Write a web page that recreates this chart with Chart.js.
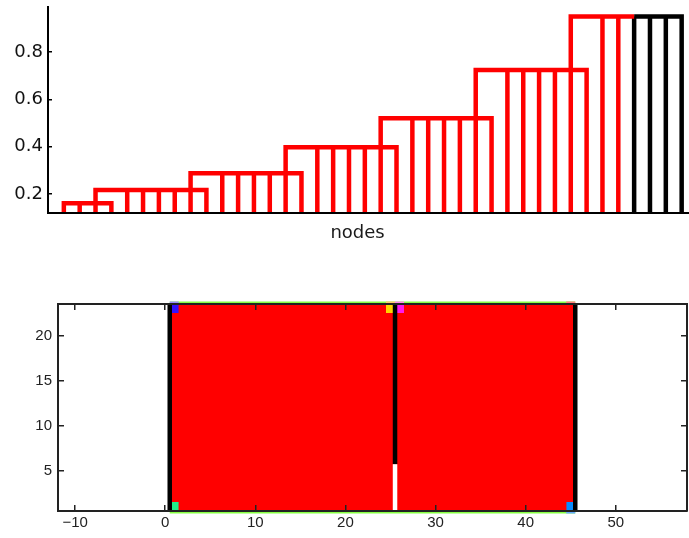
<!DOCTYPE html>
<html>
<head>
<meta charset="utf-8">
<script src="https://cdn.jsdelivr.net/npm/chart.js@4.4.1/dist/chart.umd.min.js"></script>
<style>
  html, body { margin: 0; padding: 0; background: #fff; }
  #wrap { position: relative; width: 689px; height: 538px; overflow: hidden; }
  #treeChart { position: absolute; left: 0; top: 0; }
  #mapChart { position: absolute; left: 0; top: 290px; }
</style>
</head>
<body>
<div id="wrap">
  <canvas id="treeChart" width="689" height="250"></canvas>
  <canvas id="mapChart" width="689" height="248"></canvas>
</div>
<script>
// ---------- top panel: dendrogram ----------
const levelHeights = [0.161, 0.217, 0.288, 0.398, 0.52, 0.724, 0.95];
const clusterFirstLeaf = [1, 5, 11, 17, 23, 29, 35];
const clusterLastLeaf = [4, 10, 16, 22, 28, 34, 40];
const linkLeaf = [3, 9, 15, 21, 27, 33];   // column that climbs into the next cluster
const blackFromLeaf = 37;
const treeTicks = [0.2, 0.4, 0.6, 0.8];
const treeMin = 0.12, treeMax = 0.99;
const treeXMax = 40.4;
const treeXTitle = 'nodes';
const treeXTitleAt = 19.54;

// ---------- bottom panel: map ----------
const mapXTicks = [-10, 0, 10, 20, 30, 40, 50];
const mapYTicks = [5, 10, 15, 20];
const mapXMin = -11.9, mapXMax = 57.9;
const mapYMin = 0.5, mapYMax = 23.5;
const regionLeft = 0.5, regionRight = 45.5;
const regionBottom = 0.5, regionTop = 23.5;
const wallX = [0.5, 25.5, 45.5];
const wallFrom = [0.5, 5.7, 0.5];
const gapX = 25.5, gapTop = 5.7;          // white lower part of the middle wall
const cellX = [1, 1, 25, 26, 45];
const cellY = [23, 1, 23, 23, 1];
const cellColors = ['#3311ff', '#20f08a', '#ffd400', '#ff1aee', '#0a8cff'];
const edgeX = [1, 25, 26, 45, 45];
const edgeY = [23.5, 23.5, 23.5, 23.5, 0.5];
const edgeColors = ['#9a8cff', '#ffc870', '#ff88ee', '#ff8080', '#66aaff'];

const RED = '#ff0000';
const BLACK = '#000000';
const AXIS = '#222222';

function pathSet(points, color, width, extra) {
    return Object.assign({
        data: points.map(p => ({ x: p[0], y: p[1] })),
        showLine: true,
        borderColor: color,
        borderWidth: width,
        pointRadius: 0,
        fill: false,
        borderCapStyle: 'butt',
        borderJoinStyle: 'miter'
    }, extra || {});
}

// fixed box sizes, no extra padding from tick labels
function fixSize(w, h) {
    return s => {
        if (w !== null) s.width = w;
        if (h !== null) s.height = h;
        s.paddingTop = 0; s.paddingBottom = 0;
        s.paddingLeft = 0; s.paddingRight = 0;
    };
}

// build the dendrogram segments
const treeSets = [];
levelHeights.forEach((h, k) => {
    const startX = k === 0 ? clusterFirstLeaf[0] : linkLeaf[k - 1];
    const startY = k === 0 ? treeMin : levelHeights[k - 1];
    const last = clusterLastLeaf[k];
    if (last >= blackFromLeaf) {
        treeSets.push(pathSet([[startX, startY], [startX, h], [blackFromLeaf, h]], RED, 4.5));
        treeSets.push(pathSet([[blackFromLeaf, h], [last, h], [last, treeMin]], BLACK, 4.5));
    } else {
        treeSets.push(pathSet([[startX, startY], [startX, h], [last, h], [last, treeMin]], RED, 4.5));
    }
    const from = k === 0 ? clusterFirstLeaf[k] + 1 : clusterFirstLeaf[k];
    for (let leaf = from; leaf < last; leaf++) {
        const c = leaf >= blackFromLeaf ? BLACK : RED;
        treeSets.push(pathSet([[leaf, treeMin], [leaf, h]], c, 4.5));
    }
});

const nodesLabel = {
    id: 'nodesLabel',
    afterDraw(chart) {
        const { ctx, scales: { x } } = chart;
        ctx.save();
        ctx.font = '18px "DejaVu Sans"';
        ctx.fillStyle = '#1a1a1a';
        ctx.textAlign = 'center';
        ctx.textBaseline = 'alphabetic';
        ctx.fillText(treeXTitle, x.getPixelForValue(treeXTitleAt), x.bottom - 12);
        ctx.restore();
    }
};

new Chart(document.getElementById('treeChart'), {
    type: 'scatter',
    data: { datasets: treeSets },
    options: {
        responsive: false,
        animation: false,
        layout: { padding: { top: 7, right: 1, left: 0, bottom: 0 } },
        plugins: { legend: { display: false }, tooltip: { enabled: false } },
        scales: {
            x: {
                type: 'linear', min: 0, max: treeXMax,
                ticks: { display: false },
                grid: { display: false },
                border: { display: true, color: BLACK, width: 2, z: 1 },
                afterFit: fixSize(null, 37)
            },
            y: {
                type: 'linear', min: treeMin, max: treeMax,
                afterBuildTicks: s => { s.ticks = treeTicks.map(v => ({ value: v })); },
                ticks: {
                    color: '#111',
                    font: { family: 'DejaVu Sans', size: 18 },
                    padding: 9,
                    callback: v => v.toFixed(1)
                },
                grid: { drawOnChartArea: false, color: BLACK, tickLength: -4, lineWidth: 1.5, z: 1 },
                border: { display: true, color: BLACK, width: 2, z: 1 },
                afterFit: fixSize(48, null)
            }
        }
    },
    plugins: [nodesLabel]
});

// ---------- bottom panel datasets ----------
const mapSets = [];
// green outline along the top and bottom edges
mapSets.push(pathSet([[regionLeft, regionTop], [regionRight, regionTop]], '#88ff44', 5, { clip: false, order: 6 }));
mapSets.push(pathSet([[regionLeft, regionBottom], [regionRight, regionBottom]], '#88ff44', 5, { clip: false, order: 6 }));
// coloured edge pieces
edgeX.forEach((x, i) => {
    mapSets.push(pathSet([[x - 0.5, edgeY[i]], [x + 0.5, edgeY[i]]], edgeColors[i], 5, { clip: false, order: 5 }));
});
// red region
mapSets.push(pathSet([[regionLeft, regionTop], [regionRight, regionTop]], RED, 0,
    { fill: { value: regionBottom }, backgroundColor: RED, order: 4 }));
// single coloured cells
cellX.forEach((x, i) => {
    mapSets.push(pathSet([[x - 0.5, cellY[i] + 0.5], [x + 0.5, cellY[i] + 0.5]], cellColors[i], 0,
        { fill: { value: cellY[i] - 0.5 }, backgroundColor: cellColors[i], order: 3 }));
});
// black walls
wallX.forEach((x, i) => {
    mapSets.push(pathSet([[x, wallFrom[i]], [x, regionTop]], BLACK, 4.5, { order: 2 }));
});
// white gap in the middle wall
mapSets.push(pathSet([[gapX, regionBottom], [gapX, gapTop]], '#ffffff', 4.5, { order: 1 }));

const mapFont = { family: 'Liberation Sans', size: 15 };
const minus = v => (v < 0 ? '\u2212' + Math.abs(v) : String(v));

function boxAxis(extra) {
    return Object.assign({
        type: 'linear',
        grid: { drawOnChartArea: false, color: AXIS, tickLength: -6, lineWidth: 1.5, z: 1 },
        border: { display: true, color: AXIS, width: 2, z: 1 }
    }, extra);
}

new Chart(document.getElementById('mapChart'), {
    type: 'scatter',
    data: { datasets: mapSets },
    options: {
        responsive: false,
        animation: false,
        layout: { padding: 0 },
        plugins: { legend: { display: false }, tooltip: { enabled: false } },
        scales: {
            x: boxAxis({
                position: 'bottom', min: mapXMin, max: mapXMax,
                afterBuildTicks: s => { s.ticks = mapXTicks.map(v => ({ value: v })); },
                ticks: { color: AXIS, font: mapFont, padding: 9, maxRotation: 0, callback: minus },
                afterFit: fixSize(null, 27)
            }),
            x2: boxAxis({
                position: 'top', min: mapXMin, max: mapXMax,
                afterBuildTicks: s => { s.ticks = mapXTicks.map(v => ({ value: v })); },
                ticks: { callback: () => '' },
                afterFit: fixSize(null, 14)
            }),
            y: boxAxis({
                position: 'left', min: mapYMin, max: mapYMax,
                afterBuildTicks: s => { s.ticks = mapYTicks.map(v => ({ value: v })); },
                ticks: { color: AXIS, font: mapFont, padding: 12, callback: minus },
                afterFit: fixSize(58, null)
            }),
            y2: boxAxis({
                position: 'right', min: mapYMin, max: mapYMax,
                afterBuildTicks: s => { s.ticks = mapYTicks.map(v => ({ value: v })); },
                ticks: { callback: () => '' },
                afterFit: fixSize(2, null)
            })
        }
    }
});
</script>
</body>
</html>
